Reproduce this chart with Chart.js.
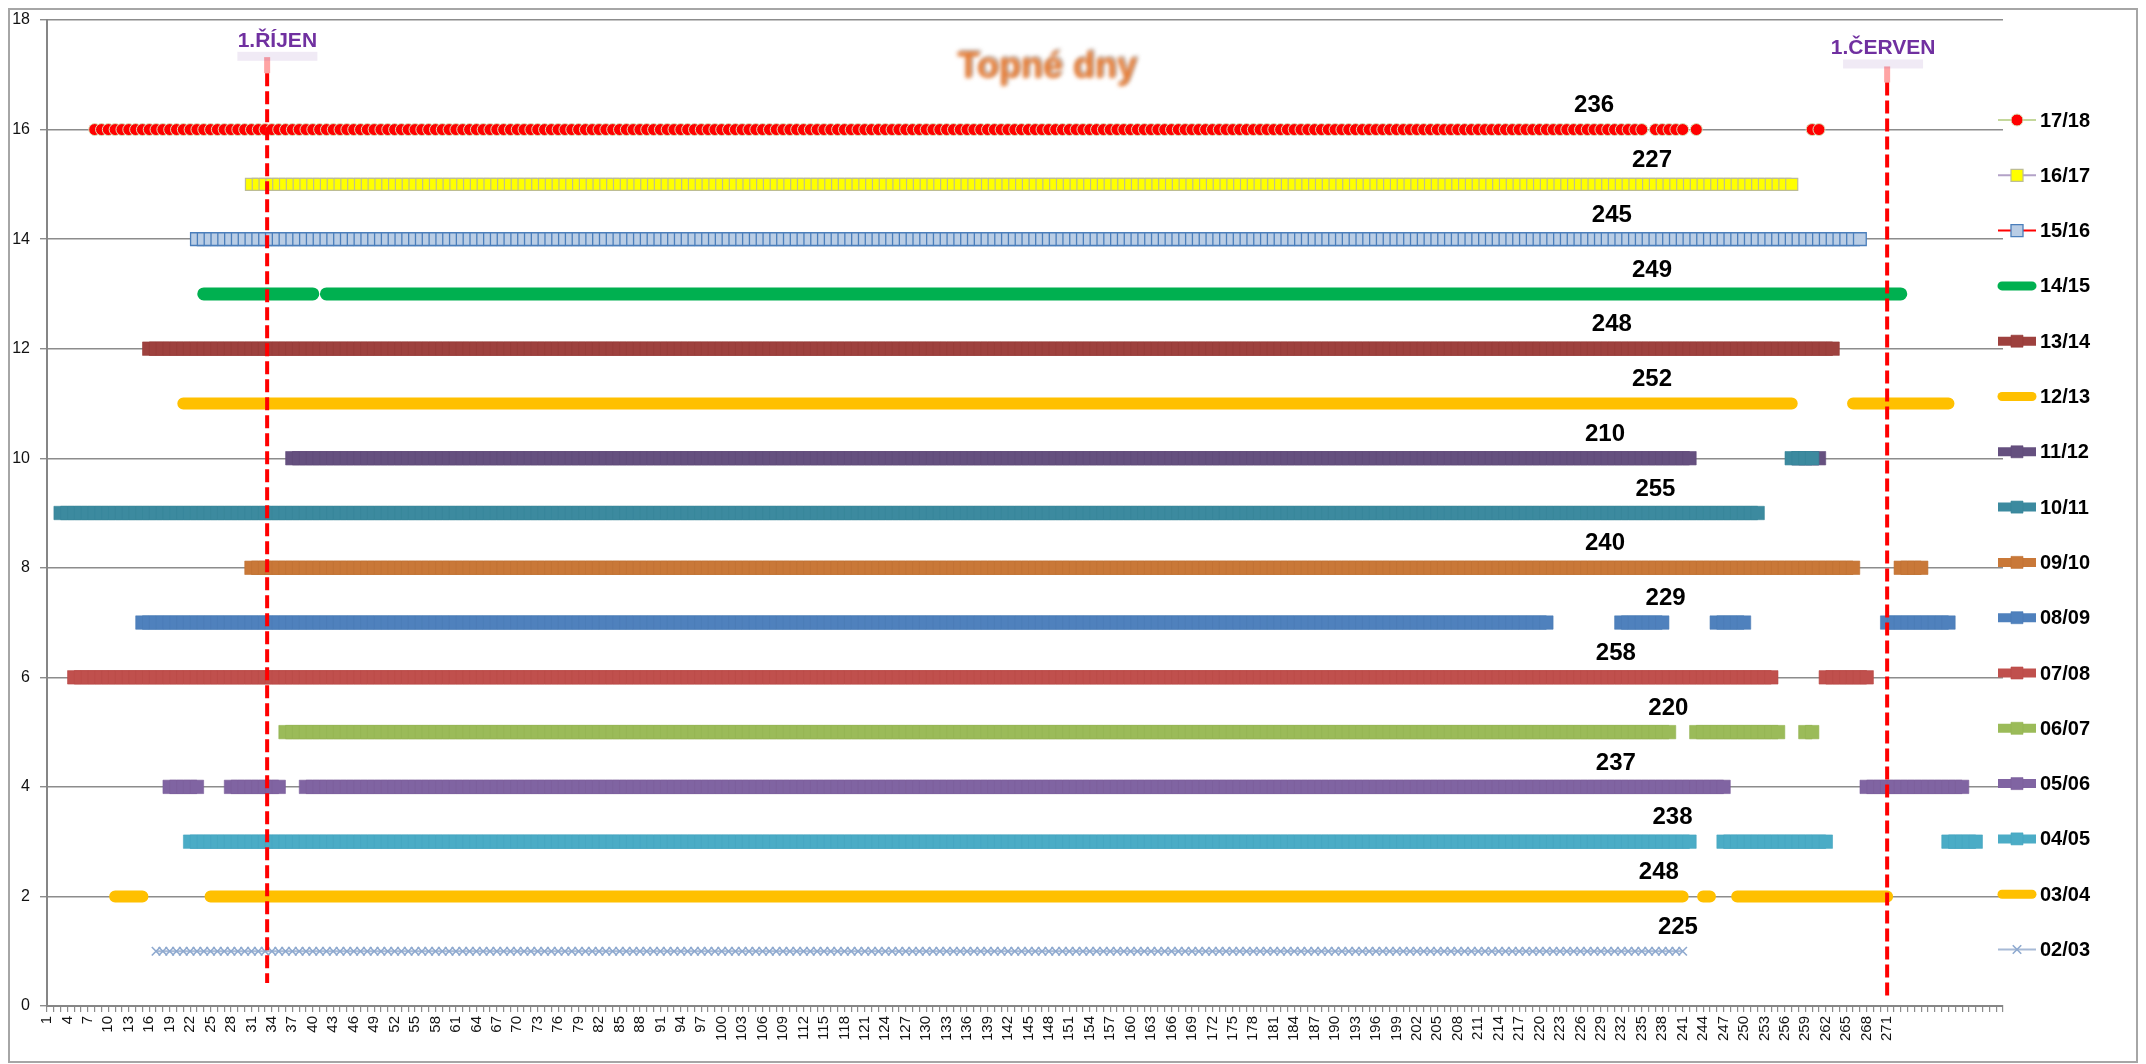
<!DOCTYPE html>
<html>
<head>
<meta charset="utf-8">
<script src="https://cdn.jsdelivr.net/npm/chart.js@4/dist/chart.umd.min.js"></script>
<style>
  html, body { margin: 0; padding: 0; background: #fff; }
  #wrap { width: 2146px; height: 1064px; position: relative; }
</style>
</head>
<body>
<div id="wrap"><canvas id="topneDny"></canvas></div>
<script>
// days of the heating season, 1..288 on the axis, labels only up to 273
const lastLabeledDay = 273;
const totalDays = 288;

const seasons = ['17/18', '16/17', '15/16', '14/15', '13/14', '12/13', '11/12', '10/11',
                 '09/10', '08/09', '07/08', '06/07', '05/06', '04/05', '03/04', '02/03'];
const levels = [16, 15, 14, 13, 12, 11, 10, 9, 8, 7, 6, 5, 4, 3, 2, 1];

// heating day spans per season: [firstDay, lastDay, optional other level]
const heatingSpans = [
    [[8, 235], [237, 241], [243, 243], [260, 261]],
    [[31, 257]],
    [[23, 267]],
    [[24, 40], [42, 273]],
    [[16, 263]],
    [[21, 257], [266, 280]],
    [[37, 242], [258, 261]],
    [[3, 252], [257, 260, 10]],
    [[31, 266], [273, 276]],
    [[15, 221], [232, 238], [246, 250], [271, 280]],
    [[5, 254], [262, 268]],
    [[36, 239], [243, 255], [259, 260]],
    [[19, 23], [28, 35], [39, 247], [268, 282]],
    [[22, 242], [247, 262], [280, 284]],
    [[11, 15], [25, 241], [244, 245], [249, 271]],
    [[17, 241]]
];

const dayCounts = [236, 227, 245, 249, 248, 252, 210, 255, 240, 229, 258, 220, 237, 238, 248, 225];
const countLabelDay = [228, 236.5, 230.6, 236.5, 230.6, 236.5, 229.6, 237, 229.6, 238.5, 231.2, 238.9, 231.2, 239.5, 237.5, 240.3];

const yTicks = [0, 2, 4, 6, 8, 10, 12, 14, 16, 18];

// 1. October and 1. June markers
const monthMarks = ['1.ŘÍJEN', '1.ČERVEN'];
const monthMarkDay = [33.3, 271];
const monthMarkFrom = [0.42, 0.13];
const monthMarkTo = [17.03, 16.86];
const monthMarkLabelDay = [34.8, 270.4];
const monthMarkLabelLevel = [17.62, 17.48];

// look of each series, same order as seasons
const looks = [
    {line: '#C4D79B', width: 2, point: 'circle', r: 6, fill: '#FF0000', edge: '#D8E4BC', edgeW: 1},
    {line: '#B3A2C7', width: 2, point: 'rect', r: 8.5, fill: '#FFFF00', edge: '#BDBD94', edgeW: 1.2},
    {line: '#FF0000', width: 2, point: 'rect', r: 9, fill: '#B9CDE5', edge: '#4A7EBB', edgeW: 1.3},
    {line: '#00B050', width: 13, round: true},
    {line: '#9E413E', width: 13, point: 'rect', r: 9.5, fill: '#9E413E', edge: '#963B38', edgeW: 0.6},
    {line: '#FFC000', width: 12, round: true},
    {line: '#65507F', width: 13, point: 'rect', r: 9.5, fill: '#65507F', edge: '#5F4A79', edgeW: 0.6},
    {line: '#3C8A9F', width: 13, point: 'rect', r: 9.5, fill: '#3C8A9F', edge: '#368498', edgeW: 0.6},
    {line: '#C97838', width: 13, point: 'rect', r: 9.5, fill: '#C97838', edge: '#C07032', edgeW: 0.6},
    {line: '#4F81BD', width: 13, point: 'rect', r: 9.5, fill: '#4F81BD', edge: '#497AB5', edgeW: 0.6},
    {line: '#C0504D', width: 13, point: 'rect', r: 9.5, fill: '#C0504D', edge: '#B84A47', edgeW: 0.6},
    {line: '#9BBB59', width: 13, point: 'rect', r: 9.5, fill: '#9BBB59', edge: '#94B453', edgeW: 0.6},
    {line: '#8064A2', width: 13, point: 'rect', r: 9.5, fill: '#8064A2', edge: '#7A5E9B', edgeW: 0.6},
    {line: '#4BACC6', width: 13, point: 'rect', r: 9.5, fill: '#4BACC6', edge: '#45A5BF', edgeW: 0.6},
    {line: '#FFC000', width: 12, round: true},
    {line: '#A7BAD6', width: 2, point: 'crossRot', r: 6, fill: '#95B3D7', edge: '#8EA9CF', edgeW: 1.6}
];

const dayLabels = [];
for (let d = 1; d <= totalDays; d++) dayLabels.push(d <= lastLabeledDay ? String(d) : '');

const datasets = seasons.map(function(name, i) {
    const values = new Array(totalDays).fill(null);
    heatingSpans[i].forEach(function(span) {
        for (let d = span[0]; d <= span[1]; d++) values[d - 1] = span.length > 2 ? span[2] : levels[i];
    });
    const lk = looks[i];
    return {
        label: name,
        data: values,
        borderColor: lk.line,
        borderWidth: lk.width,
        borderCapStyle: lk.round ? 'round' : 'butt',
        borderJoinStyle: 'round',
        pointStyle: lk.point || 'circle',
        pointRadius: lk.point ? lk.r : 0,
        pointBackgroundColor: lk.fill || lk.line,
        pointBorderColor: lk.edge || lk.line,
        pointBorderWidth: lk.edgeW || 0,
        tension: 0,
        spanGaps: false,
        order: name === '11/12' ? 1 : 0
    };
});

const FONT = "'Liberation Sans', Arial, sans-serif";

function marker(ctx, style, r, x, y) {
    ctx.beginPath();
    if (style === 'circle') {
        ctx.arc(x, y, r, 0, Math.PI * 2);
        ctx.fill(); ctx.stroke();
    } else if (style === 'rect') {
        const s = r * Math.SQRT1_2;
        ctx.rect(x - s, y - s, 2 * s, 2 * s);
        ctx.fill(); ctx.stroke();
    } else if (style === 'crossRot') {
        const s = r * Math.SQRT1_2;
        ctx.moveTo(x - s, y - s); ctx.lineTo(x + s, y + s);
        ctx.moveTo(x + s, y - s); ctx.lineTo(x - s, y + s);
        ctx.stroke();
    }
}

const decorations = {
    id: 'decorations',
    beforeDraw(chart) {
        const ctx = chart.ctx;
        ctx.save();
        ctx.fillStyle = '#fff';
        ctx.fillRect(0, 0, chart.width, chart.height);
        ctx.restore();
    },
    afterDatasetsDraw(chart) {
        const ctx = chart.ctx;
        const xs = chart.scales.x, ys = chart.scales.y;
        ctx.save();

        // count labels above each series
        ctx.fillStyle = '#000';
        ctx.font = 'bold 24px ' + FONT;
        ctx.textAlign = 'center';
        ctx.textBaseline = 'middle';
        dayCounts.forEach(function(n, i) {
            ctx.fillText(String(n), xs.getPixelForValue(countLabelDay[i] - 1), ys.getPixelForValue(levels[i]) - 24);
        });

        // dashed month lines
        monthMarks.forEach(function(txt, i) {
            const x = xs.getPixelForValue(monthMarkDay[i] - 1);
            const yTop = ys.getPixelForValue(monthMarkTo[i]);
            const yBot = ys.getPixelForValue(monthMarkFrom[i]);
            ctx.fillStyle = 'rgba(255,90,90,0.55)';
            ctx.fillRect(x - 3, yTop - 16, 6, 16);
            ctx.strokeStyle = '#FF0000';
            ctx.lineWidth = 4;
            ctx.setLineDash([13, 5]);
            ctx.beginPath();
            ctx.moveTo(x, yTop);
            ctx.lineTo(x, yBot);
            ctx.stroke();
            ctx.setLineDash([]);

            const lx = xs.getPixelForValue(monthMarkLabelDay[i] - 1);
            const ly = ys.getPixelForValue(monthMarkLabelLevel[i]);
            ctx.fillStyle = 'rgba(112,48,160,0.10)';
            ctx.fillRect(lx - 40, ly + 11, 80, 9);
            ctx.fillStyle = '#7030A0';
            ctx.font = 'bold 21px ' + FONT;
            ctx.fillText(txt, lx, ly);
        });

        // blurred title
        ctx.filter = 'blur(2.2px)';
        ctx.fillStyle = 'rgba(150,130,120,0.6)';
        ctx.font = 'bold 36px ' + FONT;
        ctx.fillText('Topné dny', 1049, 66);
        ctx.fillStyle = '#E87A30';
        ctx.fillText('Topné dny', 1047, 68);
        ctx.filter = 'none';
        ctx.restore();
    },
    afterDraw(chart) {
        const ctx = chart.ctx;
        ctx.save();
        // outer frame
        ctx.strokeStyle = '#A6A6A6';
        ctx.lineWidth = 2;
        ctx.strokeRect(9, 9, 2128, 1053);

        // legend
        const x0 = 1998, x1 = 2036;
        chart.data.datasets.forEach(function(ds, i) {
            const y = 120 + i * 55.3;
            const lk = looks[i];
            ctx.strokeStyle = ds.borderColor;
            ctx.lineWidth = Math.min(ds.borderWidth, 9);
            ctx.lineCap = lk.round ? 'round' : 'butt';
            ctx.beginPath();
            ctx.moveTo(lk.round ? x0 + 4 : x0, y);
            ctx.lineTo(lk.round ? x1 - 4 : x1, y);
            ctx.stroke();
            ctx.lineCap = 'butt';
            if (lk.point) {
                ctx.fillStyle = lk.fill;
                ctx.strokeStyle = lk.edge;
                ctx.lineWidth = lk.edgeW;
                marker(ctx, lk.point, Math.min(lk.r, 8.5), (x0 + x1) / 2, y);
            }
            ctx.fillStyle = '#000';
            ctx.font = 'bold 20px ' + FONT;
            ctx.textAlign = 'left';
            ctx.textBaseline = 'middle';
            ctx.fillText(ds.label, 2040, y + 1);
        });
        ctx.restore();
    }
};

new Chart(document.getElementById('topneDny'), {
    type: 'line',
    data: { labels: dayLabels, datasets: datasets },
    plugins: [decorations],
    options: {
        responsive: true,
        maintainAspectRatio: false,
        animation: false,
        devicePixelRatio: 1,
        layout: { padding: { left: 0, right: 143, top: 20, bottom: 0 } },
        plugins: {
            legend: { display: false },
            tooltip: { enabled: false },
            title: { display: false }
        },
        elements: { line: { fill: false } },
        scales: {
            x: {
                type: 'category',
                offset: false,
                afterFit: function(s) { s.height = 58; },
                grid: {
                    drawOnChartArea: false,
                    drawTicks: true,
                    tickLength: 6,
                    color: '#8c8c8c',
                    lineWidth: 1.2,
                    offset: false
                },
                border: { color: '#868686', width: 2 },
                ticks: {
                    autoSkip: false,
                    maxRotation: 90,
                    minRotation: 90,
                    padding: 4,
                    color: '#111',
                    font: { family: FONT, size: 15 },
                    callback: function(v, i) { return i % 3 === 0 ? dayLabels[i] : ''; }
                }
            },
            y: {
                min: 0,
                max: 18,
                afterFit: function(s) { s.width = 47; },
                afterBuildTicks: function(s) { s.ticks = yTicks.map(function(v) { return {value: v}; }); },
                grid: { color: '#8c8c8c', lineWidth: 1.4, tickLength: 7 },
                border: { color: '#868686', width: 2 },
                ticks: {
                    padding: 10,
                    color: '#111',
                    font: { family: FONT, size: 16 }
                }
            }
        }
    }
});
</script>
</body>
</html>
